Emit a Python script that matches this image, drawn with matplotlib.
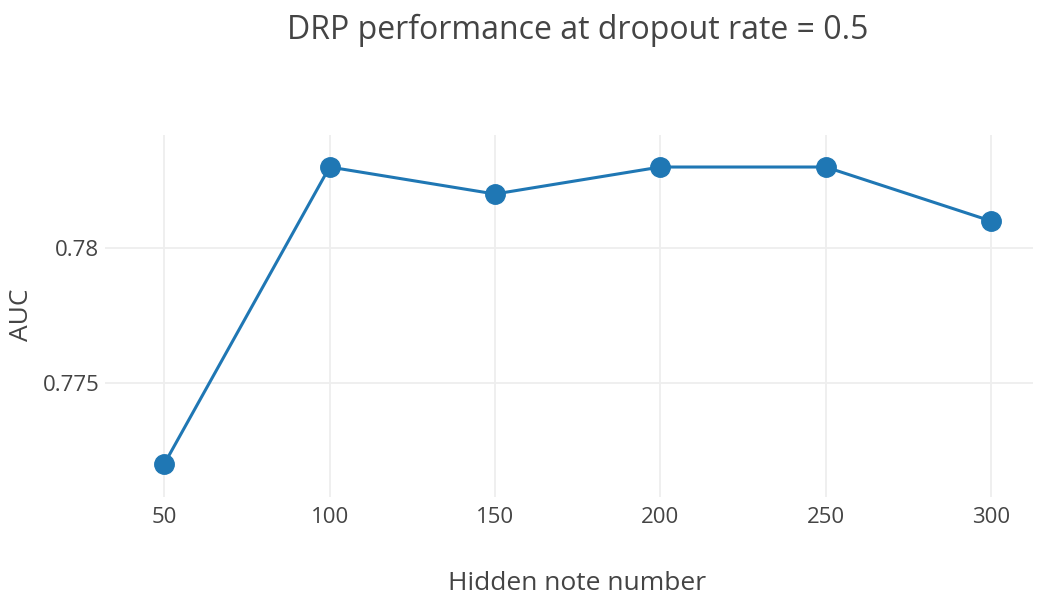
import matplotlib.pyplot as plt

plt.rcParams['font.family'] = ['Open Sans', 'DejaVu Sans']

hidden_nodes = [50, 100, 150, 200, 250, 300]
auc = [0.772, 0.783, 0.782, 0.783, 0.783, 0.781]
x_ticks = [50, 100, 150, 200, 250, 300]
y_ticks = [0.775, 0.78]
y_tick_labels = ["0.775", "0.78"]

text_col = "#444444"
grid_col = "#eeeeee"

fig = plt.figure(figsize=(10.42, 5.98), dpi=100)
ax = fig.add_axes([0.1008, 0.1689, 0.8906, 0.6053])

ax.plot(hidden_nodes, auc, color="#1f77b4", linewidth=2.2, marker="o",
        markersize=14, zorder=3, clip_on=False)

ax.set_xlim(32.1, 312.7)
ax.set_ylim(0.770778, 0.784185)
ax.set_xticks(x_ticks)
ax.set_yticks(y_ticks)
ax.set_yticklabels(y_tick_labels)
ax.grid(True, color=grid_col, linewidth=1.3)
ax.set_axisbelow(True)
for s in ax.spines.values():
    s.set_visible(False)
ax.tick_params(length=0, labelsize=16, labelcolor=text_col)
ax.tick_params(axis='y', pad=4)
ax.tick_params(axis='x', pad=7)

fig.text(0.554, 0.950, "DRP performance at dropout rate = 0.5", ha="center",
         va="center", fontsize=23, color=text_col)
fig.text(0.554, 0.025, "Hidden note number", ha="center", va="center",
         fontsize=19, color=text_col)
fig.text(0.021, 0.473, "AUC", ha="center", va="center", rotation=90,
         fontsize=19, color=text_col)

fig.savefig("out.png", dpi=100)
